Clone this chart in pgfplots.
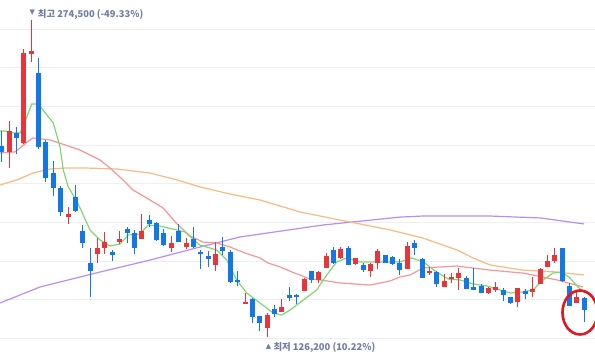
\documentclass[border=0pt]{standalone}
\usepackage{pgfplots}
\pgfplotsset{compat=1.18}
\usepackage{pgfplotstable}
\usepackage{fontspec}
\newfontfamily\kr{Noto Sans CJK KR}
\newfontfamily\dv{DejaVu Sans}
\definecolor{upc}{RGB}{232,52,58}
\definecolor{dnc}{RGB}{18,120,232}
\definecolor{ma5}{RGB}{128,214,112}
\definecolor{ma20}{RGB}{246,150,150}
\definecolor{ma60}{RGB}{249,186,128}
\definecolor{ma120}{RGB}{186,140,246}
\definecolor{lblc}{RGB}{112,126,166}
\definecolor{gridc}{RGB}{238,239,242}
\definecolor{circc}{RGB}{230,22,32}

\pgfplotstableread{
i o h l c
1 212800 227300 205300 222600
3 217000 260900 216500 259100
4 258600 274500 254900 260000
9 182300 187000 179100 183700
13 165000 172500 160800 167800
14 167800 175300 165000 170600
16 170600 175800 169700 172000
19 172000 183700 172000 175800
23 167800 173500 166000 170200
25 168300 172500 167400 170200
29 159900 170600 157100 165000
33 141600 146800 141600 142600
36 130400 137400 126200 136500
38 137900 144000 137900 140200
41 147700 153800 147700 153300
43 152900 157100 151500 156600
44 158500 165500 158500 164100
46 163200 168300 162700 167400
48 160400 163200 159900 163200
50 157100 160800 154300 160400
51 160800 167400 158000 166400
55 158000 170600 158000 168800
58 156100 159000 155200 157100
60 149600 155700 149600 152400
61 153300 156100 151500 154300
62 153800 158500 148200 156100
66 146800 149600 146300 149100
67 148200 151900 147300 149600
70 142600 149100 140200 149100
72 147300 154300 144900 148700
73 151000 158500 151000 158000
74 159000 164600 159000 161800
75 161800 167800 160800 164600
78 142100 148200 142100 144900
}\up

\pgfplotstableread{
i o h l c
0 215600 222600 208100 212800
2 221600 224400 211800 219300
5 249700 256700 214200 215100
6 217400 218400 198700 200600
7 202900 208500 192200 195900
8 195900 196800 182800 184700
10 191700 197300 184700 185100
11 175800 178600 167800 170200
12 160800 167800 144900 157100
15 166000 166900 161800 164600
17 176700 177700 170200 174900
18 174900 176300 165000 167800
20 180900 183300 177700 179100
21 179500 180000 171100 171600
22 174900 176700 168800 169200
24 175800 179100 170600 170600
26 172000 177700 167800 168300
27 166000 166900 158000 165000
28 164100 166400 159000 162700
30 168300 173000 164600 166400
31 166000 166900 151500 151900
32 152900 157100 150100 151900
34 144000 144500 132800 135600
35 136000 136000 129000 132800
37 139300 141200 135600 137000
39 145800 149600 143100 144500
40 145800 146300 141600 144900
42 157100 157100 151500 152900
45 166900 168300 160400 160800
47 167800 168800 159900 159900
49 159900 160800 156600 157500
52 164600 164600 160800 160800
53 163600 164100 159900 160400
54 160800 162700 155200 157500
56 170200 171600 164600 167800
57 162700 163200 153800 153800
59 156600 157100 149600 151000
63 153800 154700 148700 148700
64 149600 158500 148200 148200
65 150100 151000 146800 146800
68 148200 149100 143100 145800
69 144900 144900 141600 142100
71 147700 148700 144000 146300
76 167800 167800 151900 152400
77 150100 151500 140700 140700
79 144500 144900 133200 138800
}\down

\begin{document}
\begin{tikzpicture}
\begin{axis}[
  width=595bp, height=361bp, scale only axis,
  xmin=-0.2305, xmax=80.447,
  ymin=114980, ymax=283860,
  axis line style={draw=none},
  xtick=\empty,
  ytick={270150,252080,234010,215940,197870,179800,161730,143660,125590},
  yticklabels={},
  major tick length=0pt,
  ymajorgrids,
  grid style={draw=gridc, line width=1bp},
  clip=true,
  candle/.style={draw=none, mark=none, forget plot},
]
% moving averages
\addplot[ma120, line width=1.2bp] coordinates {
(-0.23,142100) (5.19,149600) (13.33,156600) (20.11,162200) (26.89,168300)
(32.31,173000) (43.57,178600) (54.01,182300) (57.12,182800) (66.21,182800)
(72.99,181900) (78.96,179100)};
\addplot[ma60, line width=1.2bp] coordinates {
(-0.23,197300) (2.07,199700) (4.24,202900) (6.55,204800) (8.85,205300)
(11.02,205300) (15.63,204800) (20.11,202900) (23.77,199700) (26.89,196400)
(30.96,193100) (35.02,190300) (40.45,184700) (45.88,180900) (52.65,176300)
(57.12,172500) (61.74,166900) (63.90,163200) (66.21,159900) (70.68,157500)
(75.30,156600) (78.96,155200)};
\addplot[ma20, line width=1.2bp] coordinates {
(-0.23,212300) (1.80,212800) (3.84,218400) (4.24,219300) (6.55,218400)
(10.62,213700) (13.33,209000) (14.68,205300) (16.45,199700) (17.80,195000)
(20.11,190300) (21.87,186600) (23.77,179100) (25.53,173500) (27.30,170600)
(29.19,170200) (30.96,168300) (32.99,165500) (35.02,163200) (36.11,160800)
(37.74,159000) (39.36,156600) (40.45,155200) (41.80,153300) (43.16,152900)
(45.88,151500) (49.94,150500) (52.65,152400) (54.01,154300) (55.36,155200)
(57.12,158500) (61.74,159400) (66.21,157500) (70.68,156100) (75.30,152900)
(78.82,149600)};
\addplot[ma5, line width=1.2bp] coordinates {
(-0.23,222600) (0.45,222600) (1.80,221600) (2.48,221600) (2.89,224400)
(4.07,235200) (4.96,235200) (7.00,226300) (7.91,215100) (8.35,204300)
(9.03,196400) (10.17,189800) (10.62,186600) (11.97,176300) (13.33,171600)
(14.68,168800) (16.04,169700) (17.17,173900) (18.75,174400) (19.88,178600)
(21.46,178100) (23.73,176300) (24.85,175300) (26.89,169200) (29.15,166900)
(30.51,162200) (31.86,152900) (33.22,146800) (35.02,142100) (36.83,137400)
(37.97,136500) (39.09,138800) (40.90,143500) (42.71,148200) (44.07,155200)
(45.42,161300) (46.78,163200) (48.58,161300) (50.85,161300) (52.65,161300)
(54.01,161300) (55.59,163200) (57.17,161300) (58.98,156600) (60.56,153300)
(62.14,152900) (63.95,151000) (65.76,150100) (67.56,148200) (68.92,146800)
(70.72,147300) (72.04,148200) (73.40,152900) (74.75,156100) (75.98,156600)
(77.06,153800) (78.14,149600) (79.09,146800)};
% wicks
\addplot[candle, error bars/.cd, y dir=plus, y explicit, error mark=none,
  error bar style={line width=1bp, draw=upc}]
  table[x=i, y=l, y error plus expr=\thisrow{h}-\thisrow{l}] {\up};
\addplot[candle, error bars/.cd, y dir=plus, y explicit, error mark=none,
  error bar style={line width=1bp, draw=dnc}]
  table[x=i, y=l, y error plus expr=\thisrow{h}-\thisrow{l}] {\down};
% bodies
\addplot[candle, error bars/.cd, y dir=plus, y explicit, error mark=none,
  error bar style={line width=5bp, draw=upc}]
  table[x=i, y=o, y error plus expr=\thisrow{c}-\thisrow{o}] {\up};
\addplot[candle, error bars/.cd, y dir=plus, y explicit, error mark=none,
  error bar style={line width=5bp, draw=dnc}]
  table[x=i, y=c, y error plus expr=\thisrow{o}-\thisrow{c}] {\down};
% annotations
\node[text=lblc, inner sep=0, font=\dv\fontsize{7}{8}\selectfont] at (axis cs:4.15,277900) {▼};
\node[anchor=west, text=lblc, inner sep=0, font=\kr\bfseries\fontsize{9.4}{11}\selectfont] at (axis cs:4.88,277100) {최고 274,500 (-49.33\%)};
\node[text=lblc, inner sep=0, font=\dv\fontsize{7}{8}\selectfont] at (axis cs:36.18,121700) {▲};
\node[anchor=west, text=lblc, inner sep=0, font=\kr\bfseries\fontsize{9.4}{11}\selectfont] at (axis cs:36.83,121400) {최저 126,200 (10.22\%)};
\draw[circc, line width=2.6bp] (axis cs:78.41,137670) ellipse [x radius=17.5bp, y radius=22bp];
\end{axis}
\pgfresetboundingbox
\path (current axis.south west) rectangle (current axis.north east);
\end{tikzpicture}
\end{document}
